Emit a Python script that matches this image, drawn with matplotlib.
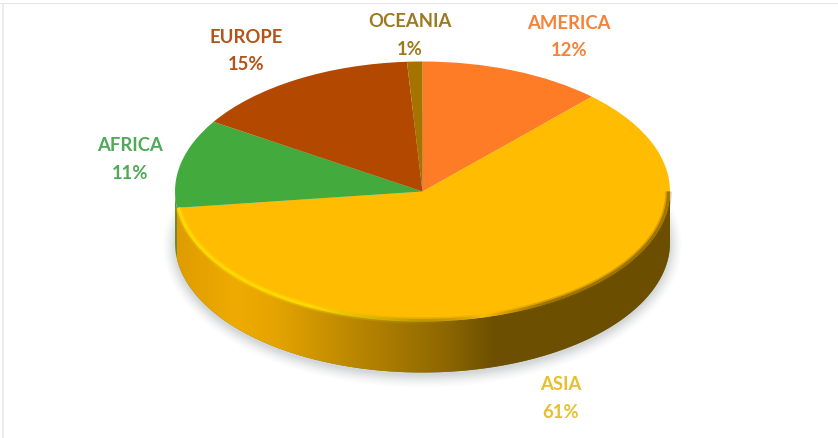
import numpy as np
import matplotlib
matplotlib.use("Agg")
import matplotlib.pyplot as plt
from matplotlib.patches import Polygon, Rectangle, Ellipse
from matplotlib.colors import LinearSegmentedColormap
from matplotlib.collections import LineCollection

regions = ["AMERICA", "ASIA", "AFRICA", "EUROPE", "OCEANIA"]
shares = [12, 61, 11, 15, 1]
slice_colors = ["#FF7C26", "#FFBC00", "#43AB3D", "#B34800", "#A57300"]
label_colors = ["#F58236", "#E8C02E", "#4FA957", "#B5521B", "#9C7A1E"]

W, H = 838, 438
CX, CY, A, B, DEPTH = 422.5, 191.5, 247.5, 130, 51
FONT = "Lato"

fig = plt.figure(figsize=(W / 100, H / 100), dpi=100, facecolor="white")
ax = fig.add_axes([0, 0, 1, 1])
ax.pie(shares, colors=slice_colors, startangle=90, counterclock=False, radius=1,
       center=(0, 0), frame=True,
       wedgeprops=dict(linewidth=0, zorder=5, antialiased=True))
ax.set_aspect("auto")
ax.axis("off")


def px(x, y):
    return (x - CX) / A, (CY - y) / B


# thin frame along the top and left edges
ax.add_patch(Rectangle(px(0, 4), 838 / A, 1.2 / B, fc="#E6E6E6", ec="none", zorder=1))
ax.add_patch(Rectangle(px(2.5, 438), 1.2 / A, 434 / B, fc="#EDEDED", ec="none", zorder=1))

# soft shadow under the disc
d = DEPTH / B
for grow, alpha in zip(np.linspace(12, 0, 12), np.linspace(0.008, 0.035, 12)):
    ax.add_patch(Ellipse((0.0, -d - 3 / B), 2 + 2 * grow / A, 2 + 2 * grow / B,
                         fc="#5A6270", ec="none", alpha=alpha, zorder=2))

# side wall: sliver of the neighbouring slice, then the shaded main slice
t = np.linspace(np.pi, 2 * np.pi, 400)
wall = np.column_stack([np.r_[np.cos(t), np.cos(t[::-1])],
                        np.r_[np.sin(t), np.sin(t[::-1]) - d]])
ax.add_patch(Polygon(wall, closed=True, fc="#6E8A2A", ec="none", zorder=3))

asia_end = np.deg2rad(90 - 3.6 * (shares[0] + shares[1]))
ta = np.linspace(asia_end + 2 * np.pi, 2 * np.pi, 400)
wall2 = np.column_stack([np.r_[np.cos(ta), np.cos(ta[::-1])],
                         np.r_[np.sin(ta), np.sin(ta[::-1]) - d]])
clip = Polygon(wall2, closed=True, fc="none", ec="none", zorder=4)
ax.add_patch(clip)

shade = LinearSegmentedColormap.from_list("wall", [
    (0.00, "#DE9C00"), (0.12, "#EFAB00"), (0.20, "#E5A400"), (0.35, "#BD8900"),
    (0.55, "#8C6600"), (0.64, "#6E5000"), (1.00, "#6B4E00")])
img = ax.imshow(np.linspace(0, 1, 512)[None, :], cmap=shade, aspect="auto",
                extent=(-1, 1, -1 - d, 0.2), zorder=4, interpolation="bilinear")
img.set_clip_path(clip)
ax.set_xlim(-CX / A, (W - CX) / A)
ax.set_ylim((CY - H) / B, CY / B)

# bevel along the rim: bright on the lit side, dark on the far side
rim_t = np.linspace(asia_end + 2 * np.pi, 2 * np.pi, 500)
rim_mid = 0.5 * (rim_t[1:] + rim_t[:-1])
rim_x = np.cos(rim_mid)
for width, alpha in ((4.5, 0.3), (2.2, 0.7)):
    colors = np.zeros((rim_mid.size, 4))
    lit = np.clip((0.25 - rim_x) / 0.7, 0, 1)
    colors[:, :3] = lit[:, None] * np.array([1.0, 0.89, 0.0]) + \
        (1 - lit[:, None]) * np.array([0.50, 0.36, 0.0])
    colors[:, 3] = alpha * np.clip(np.abs(rim_x - 0.25) / 0.25, 0, 1)
    pts = np.column_stack([0.994 * np.cos(rim_t),
                           0.992 * np.sin(rim_t)]).reshape(-1, 1, 2)
    segs = np.concatenate([pts[:-1], pts[1:]], axis=1)
    ax.add_collection(LineCollection(segs, colors=colors, linewidths=width,
                                     capstyle="butt", zorder=6))

# slice labels
label_px = [(569, 37), (561, 398.5), (130, 159.5), (246, 51), (410, 35.5)]
for name, share, color, (x, y) in zip(regions, shares, label_colors, label_px):
    ax.text(*px(x, y), f"{name}\n{share}%", color=color, fontfamily=FONT,
            fontweight="bold", fontsize=13.3, ha="center", va="center",
            linespacing=1.75, zorder=8)

fig.savefig("out.png", dpi=100, facecolor="white")
